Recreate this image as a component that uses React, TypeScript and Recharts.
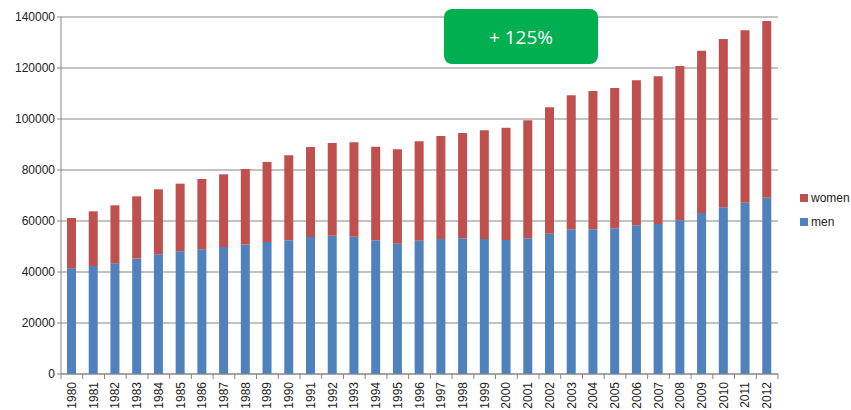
import React from 'react';
import {
  BarChart,
  Bar,
  XAxis,
  YAxis,
  CartesianGrid,
  Legend,
} from 'recharts';

const YEARS = [
  '1980', '1981', '1982', '1983', '1984', '1985', '1986', '1987', '1988', '1989',
  '1990', '1991', '1992', '1993', '1994', '1995', '1996', '1997', '1998', '1999',
  '2000', '2001', '2002', '2003', '2004', '2005', '2006', '2007', '2008', '2009',
  '2010', '2011', '2012',
];

const MEN = [
  41450, 42350, 43400, 45240, 46930, 48100, 48890, 49800, 50720, 51770,
  52420, 53730, 54250, 53860, 52420, 51120, 52290, 52950, 53220, 52950,
  52560, 53220, 55030, 56740, 56740, 57130, 58300, 58830, 60270, 63150,
  65370, 67190, 69150,
];

const TOTAL = [
  61180, 63800, 66150, 69680, 72430, 74650, 76480, 78300, 80400, 83150,
  85760, 89030, 90600, 90860, 89150, 88120, 91250, 93350, 94520, 95570,
  96610, 99490, 104590, 109300, 111000, 112170, 115190, 116760, 120800, 126800,
  131400, 134800, 138450,
];

const WOMEN = TOTAL.map((t, i) => t - MEN[i]);

const Y_TICKS = [0, 20000, 40000, 60000, 80000, 100000, 120000, 140000];

const GROWTH_LABEL = '+ 125%';

const data = YEARS.map((year, i) => ({ year, men: MEN[i], women: WOMEN[i] }));

const FONT = '"Liberation Sans", Arial, sans-serif';
const AXIS_GRAY = '#868686';

// tick y arrives already shifted by tickSize + tickMargin (8px)
const YearTick = (props: any) => {
  const { x, y, payload, index, visibleTicksCount } = props;
  const half = payload.offset || 0;
  const isLast = index === visibleTicksCount - 1;
  const axisY = y - 8;
  return (
    <g>
      <line x1={x - half} y1={axisY} x2={x - half} y2={axisY + 5} stroke={AXIS_GRAY} />
      {isLast && <line x1={x + half} y1={axisY} x2={x + half} y2={axisY + 5} stroke={AXIS_GRAY} />}
      <text
        x={0}
        y={0}
        transform={`translate(${x + 4},${axisY + 8}) rotate(-90)`}
        textAnchor="end"
        fontSize={12}
        fontFamily={FONT}
        fill="#222"
      >
        {payload.value}
      </text>
    </g>
  );
};

const LegendContent = () => (
  <div style={{ fontFamily: FONT, fontSize: 12, color: '#222' }}>
    {[
      { label: 'women', color: '#C0504D' },
      { label: 'men', color: '#4F81BD' },
    ].map((item) => (
      <div key={item.label} style={{ display: 'flex', alignItems: 'center', height: 24 }}>
        <span
          style={{
            display: 'inline-block',
            width: 8,
            height: 8,
            background: item.color,
            marginRight: 3,
          }}
        />
        {item.label}
      </div>
    ))}
  </div>
);

const App: React.FC = () => {
  return (
    <div style={{ position: 'absolute', left: 0, top: 0, width: 851, height: 410, background: '#fff' }}>
      <BarChart
        width={851}
        height={410}
        data={data}
        margin={{ top: 17, right: 73, left: 0, bottom: 0 }}
        barSize={9}
      >
        <CartesianGrid vertical={false} stroke={AXIS_GRAY} />
        <XAxis
          dataKey="year"
          interval={0}
          tickLine={false}
          axisLine={{ stroke: AXIS_GRAY }}
          tick={<YearTick />}
          height={36}
        />
        <YAxis
          width={61}
          domain={[0, 140000]}
          ticks={Y_TICKS}
          interval={0}
          axisLine={{ stroke: AXIS_GRAY }}
          tickLine={{ stroke: AXIS_GRAY }}
          tickSize={4}
          tick={{ fontSize: 12, fontFamily: FONT, fill: '#222' }}
        />
        <Legend
          layout="vertical"
          align="center"
          verticalAlign="middle"
          content={<LegendContent />}
          wrapperStyle={{ left: 800, top: 186, width: 'auto' }}
        />
        <Bar dataKey="men" stackId="a" fill="#4F81BD" isAnimationActive={false} />
        <Bar dataKey="women" stackId="a" fill="#C0504D" isAnimationActive={false} />
      </BarChart>
      <div
        style={{
          position: 'absolute',
          left: 444,
          top: 9,
          width: 154,
          height: 55,
          borderRadius: 8,
          background: '#00B050',
          color: '#fff',
          fontFamily: '"Open Sans", sans-serif',
          fontSize: 19,
          display: 'flex',
          alignItems: 'center',
          justifyContent: 'center',
          boxSizing: 'border-box',
        }}
      >
        {GROWTH_LABEL}
      </div>
    </div>
  );
};

export default App;
